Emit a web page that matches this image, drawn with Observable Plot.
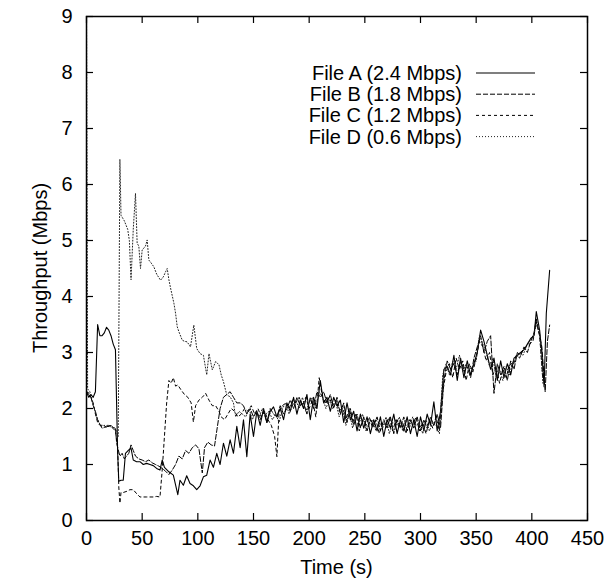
<!DOCTYPE html>
<html>
<head>
<meta charset="utf-8">
<script src="https://cdn.jsdelivr.net/npm/d3@7"></script>
<script src="https://cdn.jsdelivr.net/npm/@observablehq/plot@0.6"></script>
<style>
  html, body { margin: 0; padding: 0; background: #fff; }
  #chart svg { display: block; }
</style>
</head>
<body>
<div id="chart"></div>
<script>
// ---------------- data ----------------
const seriesLabels = ["File A (2.4 Mbps)", "File B (1.8 Mbps)", "File C (1.2 Mbps)", "File D (0.6 Mbps)"];
const xTicks = [0, 50, 100, 150, 200, 250, 300, 350, 400, 450];
const yTicks = [0, 1, 2, 3, 4, 5, 6, 7, 8, 9];
const xTitle = "Time (s)";
const yTitle = "Throughput (Mbps)";

const timeA = [0,2,4,6,8,10,12,14,16,18,20,22,24,26,28,29,31,33,35,38,40,42,45,48,51,54,57,60,63,66,68,70,74,78,82,84,87,90,93,96,99,102,105,108,111,114,117,120,123,126,129,132,135,
  138,141,144,147,150,153,156,159,162,165,168,171,174,177,180,183,186,189,192,195,198,201,204,207,210,213,216,219,222,225,228,231,234,237,240,243,246,249,252,255,258,261,264,267,270,273,276,279,282,285,288,291,294,297,300,303,306,309,312,315,318,
  321,324,327,330,333,336,339,342,345,348,351,354,357,360,363,366,369,372,375,378,381,384,387,390,393,396,399,402,404,407,409,411,413,416];
const valueA = [2.3,2.2,2.25,2.2,2.3,3.5,3.3,3.3,3.35,3.45,3.4,3.3,3.15,3.05,1.2,0.7,0.72,0.72,1.2,1.26,1.29,1.08,1.05,1.05,1.0,1.02,1.0,0.98,0.93,0.9,1.08,0.95,0.87,0.81,0.46,0.72,0.63,0.8,0.66,0.62,0.55,0.62,0.78,0.81,1.08,0.95,1.2,1.0,1.38,1.15,1.44,1.2,1.68,
  1.3,1.8,1.14,1.9,1.5,1.95,1.7,2.0,1.75,1.95,2.03,1.85,2.0,1.8,2.1,1.95,2.2,1.9,2.15,2.0,2.25,1.8,2.2,2.0,2.5,2.1,2.2,1.95,2.2,2.05,2.15,1.75,2.1,1.8,1.95,1.6,1.9,1.65,1.85,1.55,1.8,1.6,1.85,1.5,1.8,1.65,1.9,1.55,1.8,1.6,1.85,1.55,1.8,1.5,1.85,1.6,1.9,1.7,2.12,1.6,1.95,
  2.7,2.75,2.6,2.95,2.5,2.9,2.55,2.85,2.6,2.8,3.0,3.4,3.2,2.95,2.7,2.9,2.5,2.85,2.55,2.8,2.6,2.9,2.95,3.0,3.05,3.15,3.25,3.3,3.73,3.4,3.0,2.39,3.7,4.47];

const timeB = [0,2,4,6,8,10,12,14,16,18,20,22,24,26,27,28,30,32,34,36,38,40,42,44,47,50,53,56,59,62,65,68,71,74,77,80,83,86,89,92,95,98,101,104,106,109,112,115,117,120,123,126,129,132,135,
  138,141,144,147,150,153,156,159,162,165,168,171,174,177,180,183,186,189,192,195,198,201,204,207,210,213,216,219,222,225,228,231,234,237,240,243,246,249,252,255,258,261,264,267,270,273,276,279,282,285,288,291,294,297,300,303,306,309,312,315,318,
  321,324,327,330,333,336,339,342,345,348,351,354,357,360,363,366,369,372,375,378,381,384,387,390,393,396,399,402,404,407,409,412,414,416];
const valueB = [2.3,2.25,2.2,2.05,1.95,1.8,1.72,1.65,1.66,1.68,1.68,1.7,1.66,1.65,1.4,1.3,1.15,1.2,1.1,1.15,1.2,1.35,1.25,1.15,1.1,1.08,1.05,1.08,1.03,1.0,0.97,0.93,0.88,0.82,0.9,1.0,1.15,1.1,1.25,1.2,1.3,1.35,1.28,0.85,1.3,1.4,1.35,1.33,1.6,2.0,2.2,2.25,2.3,2.2,2.1,
  2.1,2.05,1.9,2.0,1.85,1.95,1.8,1.95,1.75,2.0,1.9,1.85,2.05,1.9,2.0,2.15,2.0,2.2,2.05,2.1,1.9,2.2,2.0,2.3,2.2,2.3,2.1,2.25,2.0,2.2,1.9,2.1,1.75,2.0,1.7,1.9,1.65,1.85,1.6,1.8,1.7,1.85,1.6,1.8,1.65,1.85,1.55,1.8,1.65,1.85,1.6,1.8,1.65,1.85,1.6,1.8,1.65,1.85,1.7,1.9,1.65,
  2.5,2.85,2.7,2.8,2.6,2.85,2.7,2.75,2.55,2.9,3.1,3.3,3.0,3.2,3.3,2.27,2.8,2.6,2.75,2.5,2.85,2.7,3.0,2.95,3.1,3.0,3.2,3.35,3.6,3.3,3.1,2.3,3.2,3.49];

const timeC = [0,2,4,6,8,10,12,14,16,18,20,22,24,26,28,29,30,31,33,36,39,42,45,48,51,54,57,60,63,66,68,70,72,74,76,78,80,82,85,88,91,94,96,98,101,104,107,110,113,116,119,121,124,127,130,133,136,
  139,142,145,148,151,154,157,160,163,166,169,171,173,176,179,182,185,188,191,194,197,200,203,206,209,212,215,218,221,224,227,230,233,236,239,242,245,248,251,254,257,260,263,266,269,272,275,278,281,284,287,290,293,296,299,302,305,308,311,314,317,
  320,323,326,329,332,335,338,341,344,347,350,353,356,359,362,365,368,371,374,377,380,383,386,389,392,395,398,401,404,407,410];
const valueC = [2.3,2.28,2.2,2.1,1.9,1.75,1.7,1.68,1.7,1.65,1.7,1.68,1.64,1.6,1.3,0.6,0.31,0.5,0.5,0.52,0.55,0.55,0.48,0.42,0.42,0.42,0.42,0.42,0.43,0.42,0.9,1.5,2.1,2.5,2.45,2.55,2.4,2.42,2.33,2.25,2.2,2.1,1.76,2.05,2.15,2.2,2.27,2.15,2.05,2.05,1.95,1.85,1.8,1.9,2.0,1.95,1.85,
  1.9,2.0,1.95,2.05,1.9,2.0,1.85,1.95,1.8,1.7,1.5,1.14,1.95,2.05,2.1,2.0,2.15,2.1,2.2,2.05,2.2,2.0,2.15,1.85,2.55,2.2,2.1,2.2,2.05,2.15,1.95,2.05,1.8,2.0,1.75,1.9,1.6,1.8,1.7,1.85,1.65,1.8,1.55,1.75,1.7,1.85,1.6,1.8,1.65,1.75,1.55,1.8,1.7,1.85,1.6,1.75,1.55,1.8,1.65,1.85,1.6,
  2.3,2.65,2.8,2.55,2.9,2.7,2.85,2.5,2.8,2.65,2.9,3.2,3.1,2.85,3.0,2.6,2.75,2.45,2.7,2.55,2.8,2.75,2.95,2.9,3.05,3.1,3.15,3.2,3.55,3.3,2.5];

const timeD = [0,1,3,5,7,9,11,13,15,17,19,21,23,25,27,28.5,30,31,34,37,38.5,40,42,44,45.5,47,48.5,50,53,54.5,56,58,60.5,63,66.5,69,71,72.5,74,75.5,78.5,80,81.5,83,86,88,90.4,93.4,96.4,99,102,105,108,110,113,116,119,121,123,126,129,132,134,137,
  140,143,146,149,152,155,158,161,164,167,170,173,176,179,182,185,188,191,194,197,200,203,206,209,212,215,218,221,224,227,230,233,236,239,242,245,248,251,254,257,260,263,266,269,272,275,278,281,284,287,290,293,296,299,302,305,308,311,314,317,
  320,323,326,329,332,335,338,341,344,347,350,353,356,359,362,365,368,371,374,377,380,383,386,389,392,395,398,401,404,407,410];
const valueD = [9.2,2.35,2.3,2.15,2.0,1.85,1.75,1.7,1.7,1.68,1.7,1.68,1.66,1.65,1.62,1.5,6.45,5.45,5.35,5.2,5.0,4.3,5.2,5.84,4.95,4.9,4.5,4.83,4.9,5.01,4.65,4.6,4.53,4.4,4.29,4.35,4.44,4.5,4.3,4.15,3.88,3.7,3.46,3.37,3.22,3.2,3.19,3.1,3.49,3.07,2.98,2.95,2.6,2.98,2.69,2.84,2.78,2.6,2.48,2.24,2.21,2.1,1.85,1.95,
  1.9,1.85,2.0,1.8,1.95,1.85,2.0,1.9,1.95,1.8,1.9,1.75,2.0,2.1,1.9,2.05,2.15,2.0,2.2,1.95,2.1,2.2,2.0,2.3,2.2,2.0,2.15,2.0,2.1,1.85,2.0,1.7,1.95,1.65,1.85,1.75,1.9,1.6,1.75,1.8,1.6,1.75,1.65,1.85,1.55,1.75,1.7,1.85,1.6,1.8,1.65,1.85,1.7,1.75,1.55,1.8,1.6,1.75,1.7,1.55,
  2.6,2.8,2.6,2.85,2.7,2.95,2.65,2.8,2.7,2.75,2.85,3.3,3.15,3.0,2.75,2.9,2.55,2.7,2.5,2.75,2.6,2.85,2.9,3.0,2.95,3.1,3.2,3.25,3.5,3.35,2.45];

// ---------------- build rows ----------------
const toRows = (ts, vs) => ts.map((t, i) => ({t, v: vs[i]}));
const rowsA = toRows(timeA, valueA);
const rowsB = toRows(timeB, valueB);
const rowsC = toRows(timeC, valueC);
const rowsD = toRows(timeD, valueD);

const dashes = [null, "5,2", "3,3", "1,2"];
const FONT = "'Liberation Sans', Arial, Helvetica, sans-serif";

const W = 607, H = 586;
const mL = 86, mR = 20, mT = 16, mB = 66;
const innerW = W - mL - mR, innerH = H - mT - mB;
const tickLen = 7;

const chart = Plot.plot({
  width: W,
  height: H,
  marginLeft: mL,
  marginRight: mR,
  marginTop: mT,
  marginBottom: mB,
  style: {fontFamily: FONT, fontSize: "20px", background: "#fff", color: "#000"},
  x: {domain: [0, 450]},
  y: {domain: [0, 9]},
  marks: [
    Plot.line(rowsA, {x: "t", y: "v", stroke: "black", strokeWidth: 1.1, clip: true}),
    Plot.line(rowsB, {x: "t", y: "v", stroke: "black", strokeWidth: 1, strokeDasharray: dashes[1], clip: true}),
    Plot.line(rowsC, {x: "t", y: "v", stroke: "black", strokeWidth: 1, strokeDasharray: dashes[2], clip: true}),
    Plot.line(rowsD, {x: "t", y: "v", stroke: "#222", strokeWidth: 1, strokeDasharray: dashes[3], clip: true}),
    // inward ticks on all four sides
    Plot.tickX(xTicks, {x: d => d, stroke: "black", strokeWidth: 1.2, insetTop: innerH - tickLen}),
    Plot.tickX(xTicks, {x: d => d, stroke: "black", strokeWidth: 1.2, insetBottom: innerH - tickLen}),
    Plot.tickY(yTicks, {y: d => d, stroke: "black", strokeWidth: 1.2, insetRight: innerW - tickLen}),
    Plot.tickY(yTicks, {y: d => d, stroke: "black", strokeWidth: 1.2, insetLeft: innerW - tickLen}),
    Plot.axisX(xTicks, {tickSize: 0, tickPadding: 10, label: null, fontSize: 20, tickFormat: d => String(d)}),
    Plot.axisY(yTicks, {tickSize: 0, tickPadding: 14, label: null, fontSize: 20, tickFormat: d => String(d)}),
    Plot.frame({stroke: "black", strokeWidth: 1.5})
  ]
});

document.getElementById("chart").appendChild(chart);

const svg = d3.select(chart);
const xs = chart.scale("x"), ys = chart.scale("y");
const frameLeft = xs.apply(0), frameRight = xs.apply(450);
const frameTop = ys.apply(9), frameBottom = ys.apply(0);

// axis titles
svg.append("text")
  .attr("x", (frameLeft + frameRight) / 2).attr("y", frameBottom + 54)
  .attr("text-anchor", "middle").attr("font-family", FONT).attr("font-size", 20)
  .attr("fill", "black").text(xTitle);
svg.append("text")
  .attr("transform", `translate(${frameLeft - 46},${(frameTop + frameBottom) / 2}) rotate(-90)`)
  .attr("dy", "0.35em")
  .attr("text-anchor", "middle").attr("font-family", FONT).attr("font-size", 20)
  .attr("fill", "black").text(yTitle);

// ---------------- key (inside the frame, upper right) ----------------
const key = svg.append("g").attr("font-family", FONT).attr("font-size", 20);
const textRight = 462, lineX1 = 476, lineX2 = 535, row0 = 73, rowStep = 21.2;
seriesLabels.forEach((label, i) => {
  const y = row0 + i * rowStep;
  key.append("text")
    .attr("x", textRight).attr("y", y).attr("dy", "0.35em")
    .attr("text-anchor", "end").attr("fill", "black").text(label);
  key.append("line")
    .attr("x1", lineX1).attr("x2", lineX2).attr("y1", y).attr("y2", y)
    .attr("stroke", i === 3 ? "#222" : "black").attr("stroke-width", i === 0 ? 1.1 : 1)
    .attr("stroke-dasharray", dashes[i]);
});
</script>
</body>
</html>
